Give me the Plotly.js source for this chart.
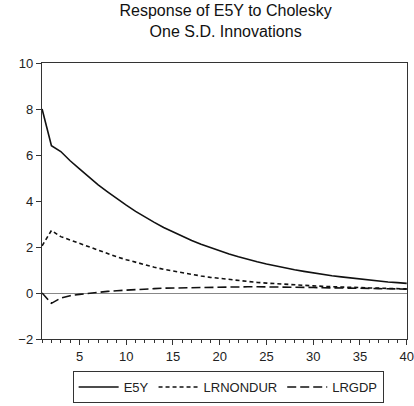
<!DOCTYPE html>
<html>
<head>
<meta charset="utf-8">
<script src="https://cdn.plot.ly/plotly-3.0.1.min.js"></script>
<style>html,body{margin:0;padding:0;background:#fff;}#chart{width:414px;height:406px;}</style>
</head>
<body>
<div id="chart"></div>
<script>
const periods = Array.from({length: 40}, (_, i) => i + 1);
const seriesNames = ["E5Y", "LRNONDUR", "LRGDP"];
const e5y = [8.0, 6.4, 6.15, 5.75, 5.4, 5.05, 4.7, 4.4, 4.1, 3.82, 3.55, 3.3, 3.07, 2.85, 2.65, 2.46, 2.28, 2.12, 1.97, 1.83, 1.7, 1.58, 1.46, 1.36, 1.26, 1.17, 1.09, 1.01, 0.94, 0.87, 0.81, 0.75, 0.7, 0.65, 0.6, 0.56, 0.52, 0.48, 0.45, 0.42];
const lrnondur = [2.05, 2.72, 2.45, 2.3, 2.15, 2.0, 1.85, 1.7, 1.57, 1.45, 1.33, 1.22, 1.12, 1.03, 0.95, 0.87, 0.8, 0.74, 0.68, 0.63, 0.58, 0.54, 0.5, 0.46, 0.43, 0.4, 0.37, 0.35, 0.33, 0.31, 0.29, 0.27, 0.26, 0.24, 0.23, 0.22, 0.21, 0.2, 0.19, 0.18];
const lrgdp = [0.0, -0.45, -0.22, -0.12, -0.06, -0.01, 0.03, 0.07, 0.1, 0.13, 0.15, 0.17, 0.19, 0.21, 0.22, 0.23, 0.24, 0.25, 0.26, 0.26, 0.27, 0.27, 0.27, 0.27, 0.27, 0.26, 0.26, 0.25, 0.25, 0.24, 0.23, 0.23, 0.22, 0.21, 0.2, 0.2, 0.19, 0.18, 0.18, 0.17];
const xTicks = [5, 10, 15, 20, 25, 30, 35, 40];
const yTicks = [-2, 0, 2, 4, 6, 8, 10];

const font = "Liberation Sans, Arial, sans-serif";
const traces = [
  {x: periods, y: e5y, name: seriesNames[0], mode: "lines", line: {color: "#111", width: 1.6, dash: "solid"}},
  {x: periods, y: lrnondur, name: seriesNames[1], mode: "lines", line: {color: "#111", width: 1.6, dash: "4px,3px"}},
  {x: periods, y: lrgdp, name: seriesNames[2], mode: "lines", line: {color: "#111", width: 1.6, dash: "9px,4px"}}
];
const layout = {
  width: 414, height: 406,
  margin: {l: 42, r: 7, t: 63, b: 67, autoexpand: false},
  paper_bgcolor: "#fff", plot_bgcolor: "#fff",
  font: {family: font, size: 13, color: "#222"},
  title: {text: "Response of E5Y to Cholesky<br>One S.D. Innovations", x: 0.545, xanchor: "center", xref: "container", y: 0.96, yref: "container", yanchor: "middle", font: {family: font, size: 16, color: "#111"}},
  showlegend: true,
  legend: {orientation: "h", x: 0.51, xanchor: "center", y: -0.232, yanchor: "bottom", bordercolor: "#333", borderwidth: 1, font: {family: font, size: 13, color: "#222"}, itemwidth: 40, tracegroupgap: 0, traceorder: "normal"},
  xaxis: {range: [0.99, 40.03], tickvals: xTicks, ticks: "outside", ticklen: 5, tickcolor: "#333", showline: true, mirror: true, linecolor: "#333", linewidth: 1.2, showgrid: false, zeroline: false, ticklabeloverflow: "allow",
    minor: {dtick: 1, tick0: 0, ticks: "outside", ticklen: 3, tickcolor: "#333", showgrid: false}},
  yaxis: {range: [-2, 10], tickvals: yTicks, ticks: "outside", ticklen: 5, tickcolor: "#333", showline: true, mirror: true, linecolor: "#333", linewidth: 1.2, showgrid: false, zeroline: true, zerolinecolor: "#888", zerolinewidth: 1}
};
Plotly.newPlot("chart", traces, layout, {displayModeBar: false, staticPlot: true});
</script>
</body>
</html>
